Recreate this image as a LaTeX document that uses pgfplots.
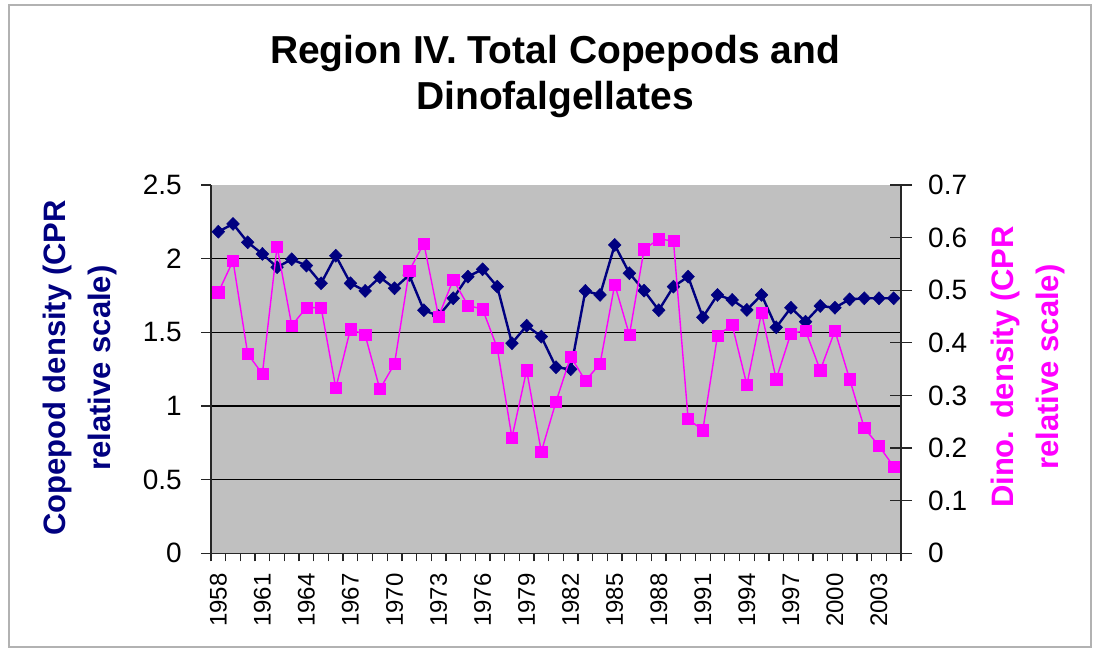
\documentclass[border=0pt]{standalone}
\usepackage{fontspec}
\setmainfont{Liberation Sans}
\usepackage{pgfplots}
\usepackage{pgfplotstable}
\pgfplotsset{compat=1.18}
\definecolor{navyc}{HTML}{000080}
\definecolor{pinkc}{HTML}{FF00FF}
\definecolor{plotgray}{HTML}{C0C0C0}

\pgfplotstableread{
year cop dino
1958 2.183 0.496
1959 2.236 0.556
1960 2.111 0.379
1961 2.032 0.341
1962 1.942 0.583
1963 1.996 0.433
1964 1.953 0.467
1965 1.833 0.467
1966 2.020 0.314
1967 1.833 0.426
1968 1.781 0.415
1969 1.874 0.312
1970 1.799 0.360
1971 1.889 0.537
1972 1.650 0.589
1973 1.611 0.450
1974 1.731 0.520
1975 1.878 0.471
1976 1.928 0.464
1977 1.810 0.390
1978 1.426 0.220
1979 1.545 0.348
1980 1.471 0.193
1981 1.263 0.288
1982 1.249 0.374
1983 1.781 0.328
1984 1.754 0.360
1985 2.093 0.511
1986 1.901 0.415
1987 1.783 0.578
1988 1.650 0.597
1989 1.810 0.594
1990 1.878 0.255
1991 1.602 0.234
1992 1.754 0.414
1993 1.720 0.434
1994 1.652 0.320
1995 1.754 0.457
1996 1.534 0.331
1997 1.667 0.418
1998 1.572 0.423
1999 1.679 0.348
2000 1.667 0.423
2001 1.724 0.331
2002 1.731 0.238
2003 1.731 0.204
2004 1.731 0.165
}\datatable

\pgfplotsset{
  common/.style={
    at={(211pt,-553.3pt)}, anchor=south west,
    scale only axis, width=690pt, height=368.3pt,
    xmin=1957.5, xmax=2004.5,
    /pgf/number format/assume math mode=true,
    /pgf/number format/1000 sep={},
    ticklabel style={font=\fontsize{28}{28}\selectfont, inner sep=0pt},
    axis line style={black!85, line width=1.4pt},
    every tick/.style={black!85, line width=1.3pt},
    clip=false,
  }
}

\begin{document}
\begin{tikzpicture}[x=1pt,y=1pt]
\useasboundingbox (0,0) rectangle (1095,-650);
\draw[gray!60, line width=1.5pt] (9,-5) rectangle (1091,-647);
\node[anchor=base, font=\fontsize{39}{44}\selectfont\bfseries] at (555,-64) {Region IV. Total Copepods and};
\node[anchor=base, font=\fontsize{39}{44}\selectfont\bfseries] at (555,-110) {Dinofalgellates};
\node[rotate=90, text=navyc, font=\fontsize{31}{31}\selectfont\bfseries] at (57,-368) {Copepod density (CPR};
\node[rotate=90, text=navyc, font=\fontsize{31}{31}\selectfont\bfseries] at (102,-368) {relative scale)};
\node[rotate=90, text=pinkc, font=\fontsize{31}{31}\selectfont\bfseries] at (1005,-367) {Dino. density (CPR};
\node[rotate=90, text=pinkc, font=\fontsize{31}{31}\selectfont\bfseries] at (1050,-367) {relative scale)};

\begin{axis}[common,
  axis background/.style={fill=plotgray},
  ymin=0, ymax=2.5,
  axis x line*=bottom, axis y line*=left,
  ytick={0,0.5,1,1.5,2},
  extra y ticks={2.5},
  extra y tick style={grid=none},
  ymajorgrids,
  major grid style={black, line width=1.3pt},
  xtick={1958,1961,...,2003},
  minor xtick={1957.5,1958.5,...,2004.5},
  major x tick style={draw=none},
  tick align=outside,
  major tick length=10pt,
  minor tick length=8pt,
  xticklabel style={font=\fontsize{24}{24}\selectfont, rotate=90, anchor=east},
  xticklabel shift=10pt,
  yticklabel shift=19pt,
]
\addplot[navyc, line width=2.4pt, mark=diamond*, mark size=6.5pt, mark options={xscale=1.3, line width=0.5pt}] table[x=year, y=cop] {\datatable};
\end{axis}

\begin{axis}[common,
  ymin=0, ymax=0.7,
  axis x line=none, axis y line*=right,
  ytick={0,0.1,...,0.7},
  tick align=center,
  major tick length=22pt,
  yticklabel shift=16pt,
]
\addplot[pinkc, line width=1.4pt, mark=square*, mark size=5.6pt, mark options={line width=0.5pt}] table[x=year, y=dino] {\datatable};
\end{axis}
\end{tikzpicture}
\end{document}
